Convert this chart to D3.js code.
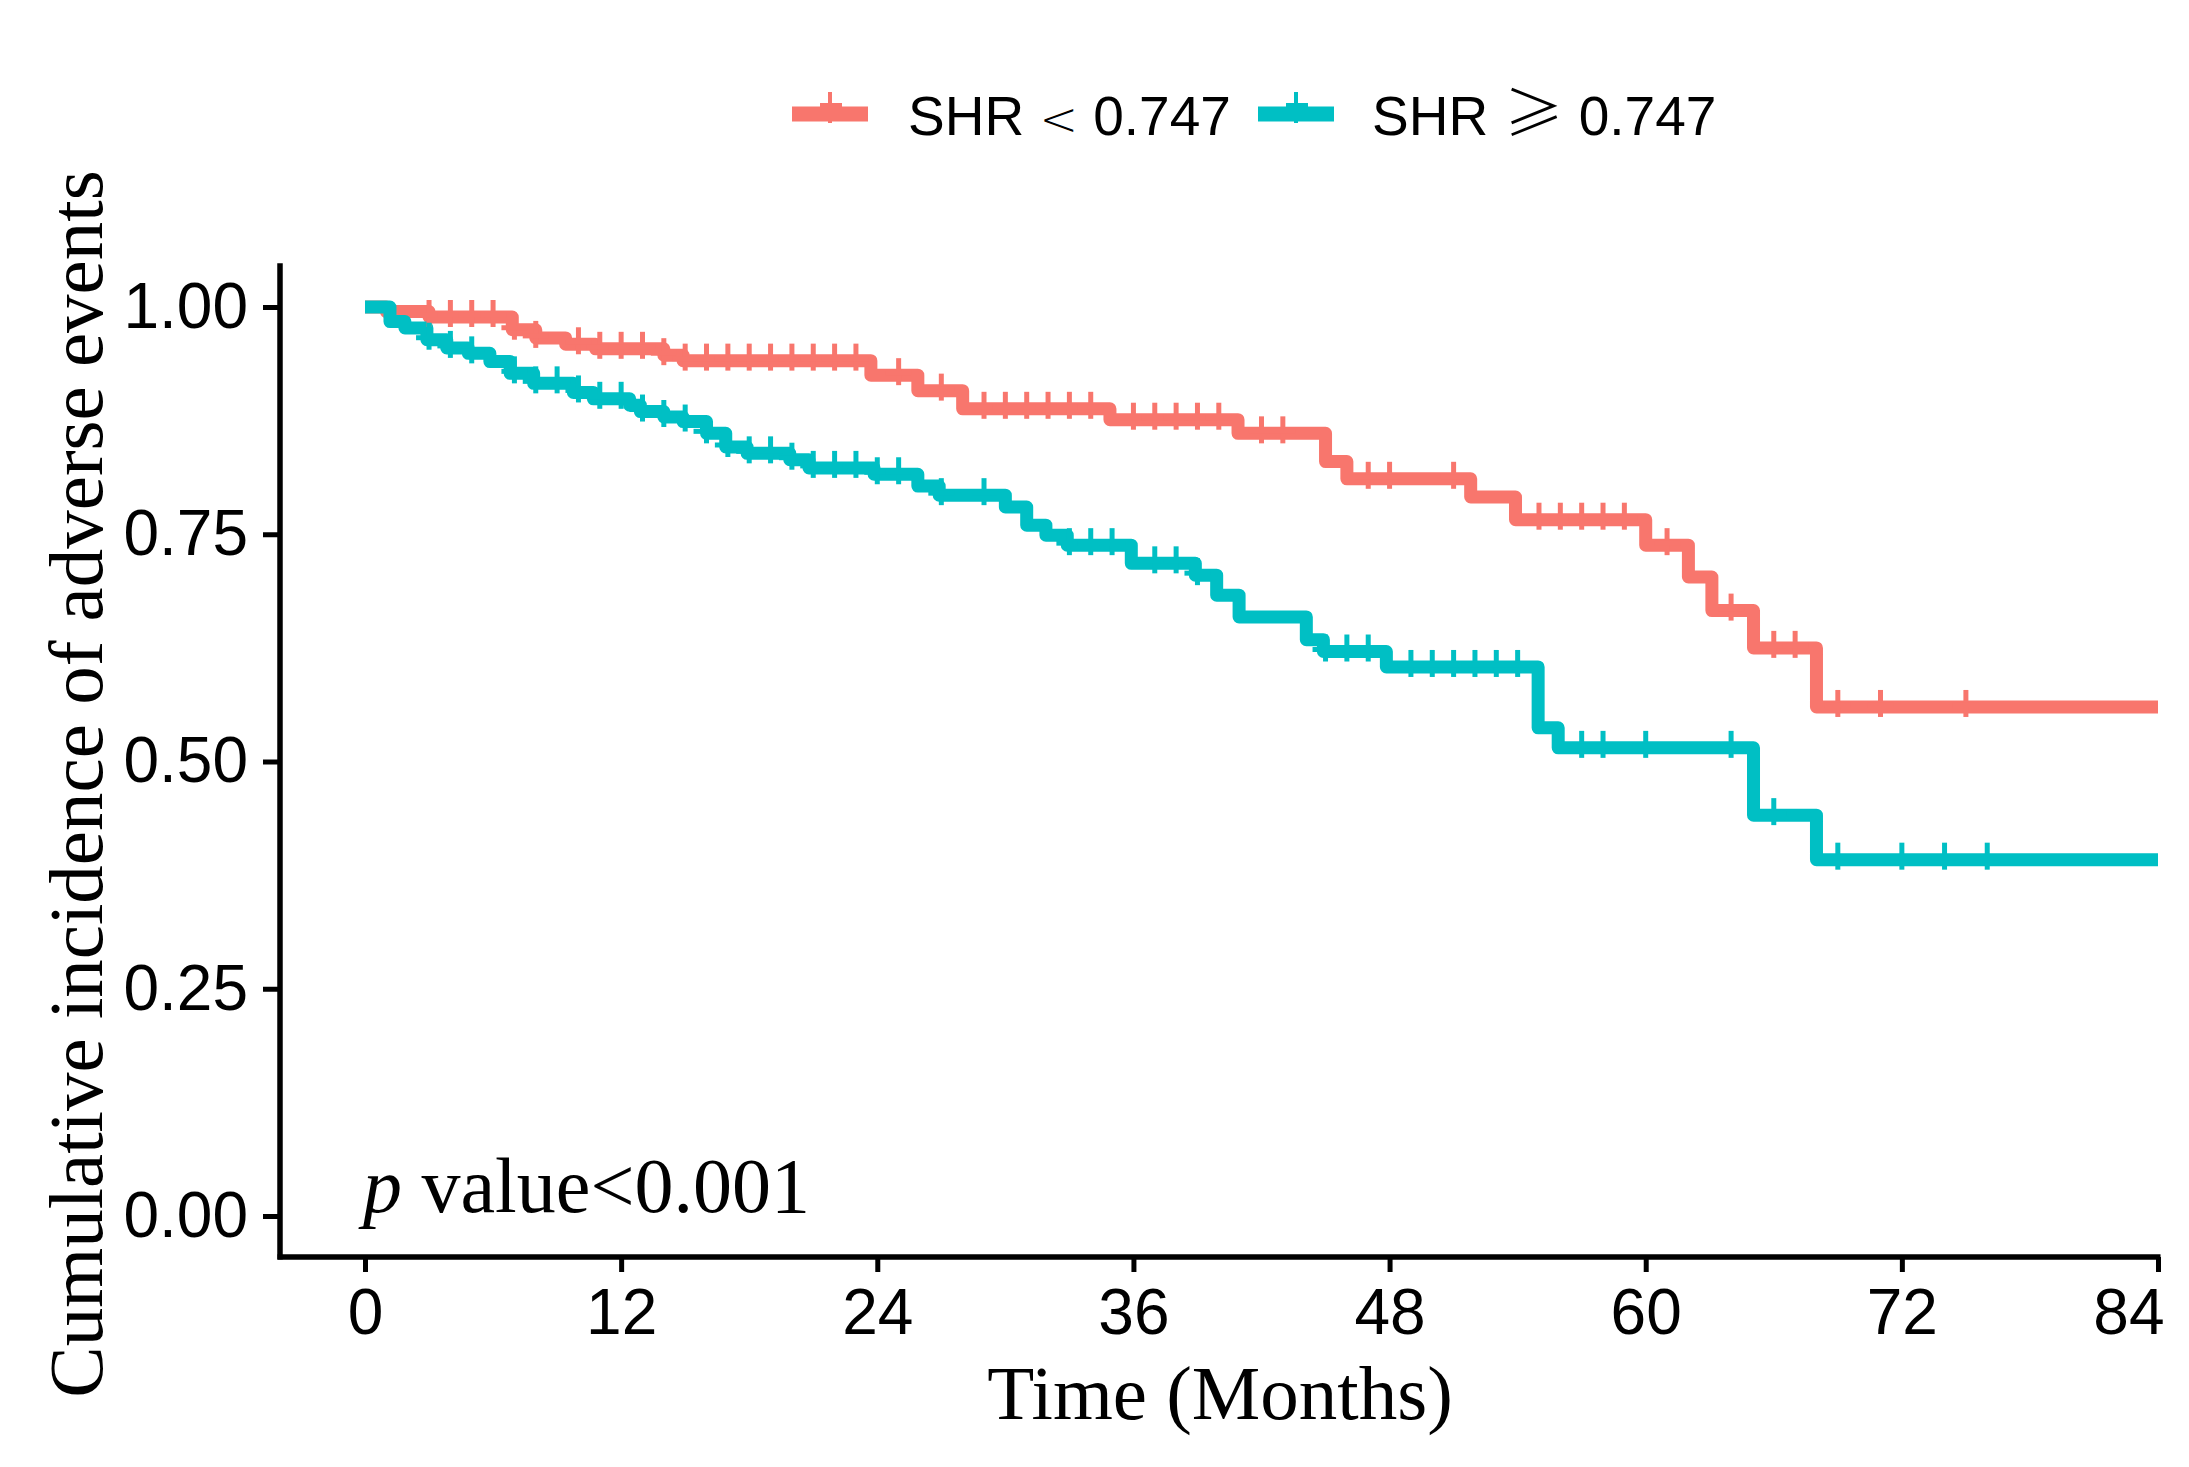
<!DOCTYPE html>
<html><head><meta charset="utf-8">
<script src="https://cdn.jsdelivr.net/npm/d3@7"></script>
<style>body{margin:0;background:#fff}</style>
</head><body>
<script>
// ---------- data ----------
const groups = ["SHR < 0.747", "SHR \u2265 0.747"];
const colors = ["#F8766D", "#00BFC4"];

const redTime  = [0, 1.0, 3.0, 6.9, 8.0, 9.4, 10.8, 14.0, 14.9, 23.7, 25.9, 28.0, 34.9, 40.9, 45.0, 46.0, 51.8, 53.9, 60.0, 62.0, 63.1, 65.05, 68.0];
const redValue = [1.0, 0.995, 0.989, 0.975, 0.966, 0.959, 0.954, 0.947, 0.941, 0.925, 0.908, 0.888, 0.876, 0.861, 0.830, 0.811, 0.791, 0.766, 0.738, 0.703, 0.666, 0.625, 0.560];
const redCensor = [3,4,5,6,7,8,10,11,12,13,14,15,16,17,18,19,20,21,22,23,25,27,29,30,31,32,33,34,36,37,38,39,40,42,43,47,48,51,55,56,57,58,59,61,64,66,67,69,71,75];

const cyanTime  = [0, 1.17, 1.87, 2.9, 3.83, 4.84, 5.85, 6.8, 7.9, 9.76, 10.7, 12.4, 12.9, 14.0, 14.9, 16.0, 16.9, 17.9, 19.9, 20.8, 23.85, 25.9, 26.9, 30.0, 31.0, 31.9, 32.9, 35.9, 38.9, 39.9, 40.95, 44.1, 44.9, 47.85, 54.96, 55.9, 65.05, 68.0];
const cyanValue = [1.0, 0.984, 0.977, 0.964, 0.955, 0.949, 0.940, 0.927, 0.916, 0.906, 0.899, 0.892, 0.885, 0.879, 0.874, 0.861, 0.846, 0.839, 0.832, 0.823, 0.816, 0.803, 0.793, 0.780, 0.760, 0.749, 0.738, 0.718, 0.705, 0.683, 0.659, 0.634, 0.621, 0.604, 0.537, 0.515, 0.441, 0.392];
const cyanCensor = [3,4,5,7,8,9,10,11,12,13,14,15,16,17,18,19,20,21,22,23,24,25,27,29,33,34,35,37,38,39,45,46,47,49,50,51,52,53,54,57,58,60,64,66,69,72,74,76];

const xTicks = [0, 12, 24, 36, 48, 60, 72, 84];
const yTicks = [0, 0.25, 0.5, 0.75, 1.0];
const xMax = 84;

// ---------- drawing ----------
const W = 2189, H = 1467;
const svg = d3.select("body").append("svg").attr("width", W).attr("height", H);
svg.append("rect").attr("width", W).attr("height", H).attr("fill", "#fff");

const x = d3.scaleLinear().domain([0, 84]).range([365, 2158]);
const y = d3.scaleLinear().domain([0, 1]).range([1216, 307]);

const series = [
  {time: redTime, value: redValue, censor: redCensor, color: colors[0]},
  {time: cyanTime, value: cyanValue, censor: cyanCensor, color: colors[1]}
];
function stepAt(s, t) {
  let v = s.value[0];
  for (let i = 0; i < s.time.length; i++) if (s.time[i] <= t) v = s.value[i];
  return v;
}

const line = d3.line().x(d => x(d[0])).y(d => y(d[1])).curve(d3.curveStepAfter);
const lw = 13;
series.forEach(s => {
  const pts = s.time.map((t, i) => [t, s.value[i]]);
  pts.push([xMax, s.value[s.value.length - 1]]);
  svg.append("path").attr("d", line(pts)).attr("fill", "none")
    .attr("stroke", s.color).attr("stroke-width", lw).attr("stroke-linejoin", "round");
});
series.forEach(s => {
  const g = svg.append("g").attr("stroke", s.color).attr("stroke-width", 5);
  s.censor.forEach(t => {
    const cx = x(t), cy = y(stepAt(s, t));
    g.append("line").attr("x1", cx).attr("x2", cx).attr("y1", cy - 17).attr("y2", cy + 10);
    g.append("line").attr("x1", cx - 13).attr("x2", cx + 13).attr("y1", cy - 2).attr("y2", cy - 2);
  });
});

// axes
const sans = "'Liberation Sans', Arial, sans-serif";
const yAxis = d3.axisLeft(y).tickValues(yTicks).tickFormat(d3.format(".2f")).tickSize(17).tickPadding(15).tickSizeOuter(0);
const gy = svg.append("g").attr("transform", "translate(280,0)").call(yAxis);
gy.select(".domain").remove();
gy.selectAll(".tick line").attr("stroke", "#000").attr("stroke-width", 5);
gy.selectAll(".tick text").attr("fill", "#000").style("font-family", sans).style("font-size", "64px");

const xAxis = d3.axisBottom(x).tickValues(xTicks).tickSize(15).tickPadding(17).tickSizeOuter(0);
const gx = svg.append("g").attr("transform", "translate(0,1257)").call(xAxis);
gx.select(".domain").remove();
gx.selectAll(".tick line").attr("stroke", "#000").attr("stroke-width", 5);
gx.selectAll(".tick text").attr("fill", "#000").style("font-family", sans).style("font-size", "64px")
  .filter(d => d === 84).attr("text-anchor", "end").attr("x", 6);

svg.append("line").attr("x1", 280).attr("x2", 280).attr("y1", y(1.048)).attr("y2", 1259.5).attr("stroke", "#000").attr("stroke-width", 5.5);
svg.append("line").attr("x1", 277.5).attr("x2", x(84) + 2.5).attr("y1", 1257).attr("y2", 1257).attr("stroke", "#000").attr("stroke-width", 5.5);

// titles
const serif = "'Liberation Serif', 'Times New Roman', serif";
svg.append("text").attr("x", 1220).attr("y", 1419).attr("text-anchor", "middle")
  .style("font-family", serif).style("font-size", "77px").text("Time (Months)");
svg.append("text").attr("transform", "translate(102,784) rotate(-90)").attr("text-anchor", "middle")
  .style("font-family", serif).style("font-size", "77px").text("Cumulative incidence of adverse events");

const pt = svg.append("text").attr("x", x(0) - 2).attr("y", 1212).style("font-family", serif).style("font-size", "78px");
pt.append("tspan").style("font-style", "italic").text("p");
pt.append("tspan").text(" value<0.001");

// legend
const legendX = [792, 1258];
const legendTextX = [908, 1372];
const symFont = ["'DejaVu Sans', sans-serif", "'Noto Sans CJK SC', 'DejaVu Sans', sans-serif"];
const symSize = ["46px", "60px"];
groups.forEach((name, i) => {
  const lx = legendX[i];
  svg.append("line").attr("x1", lx).attr("x2", lx + 76).attr("y1", 114).attr("y2", 114)
    .attr("stroke", colors[i]).attr("stroke-width", 15);
  svg.append("line").attr("x1", lx + 38).attr("x2", lx + 38).attr("y1", 92).attr("y2", 123)
    .attr("stroke", colors[i]).attr("stroke-width", 4);
  svg.append("line").attr("x1", lx + 28).attr("x2", lx + 50).attr("y1", 105).attr("y2", 105)
    .attr("stroke", colors[i]).attr("stroke-width", 4);
  const parts = name.split(" ");
  const t = svg.append("text").attr("x", legendTextX[i]).attr("y", 135)
    .style("font-family", sans).style("font-size", "55px");
  t.append("tspan").text(parts[0] + " ");
  t.append("tspan").style("font-size", symSize[i]).style("font-family", symFont[i]).style("font-weight", "300").text(parts[1]);
  t.append("tspan").text(" " + parts[2]);
});
</script>
</body></html>
